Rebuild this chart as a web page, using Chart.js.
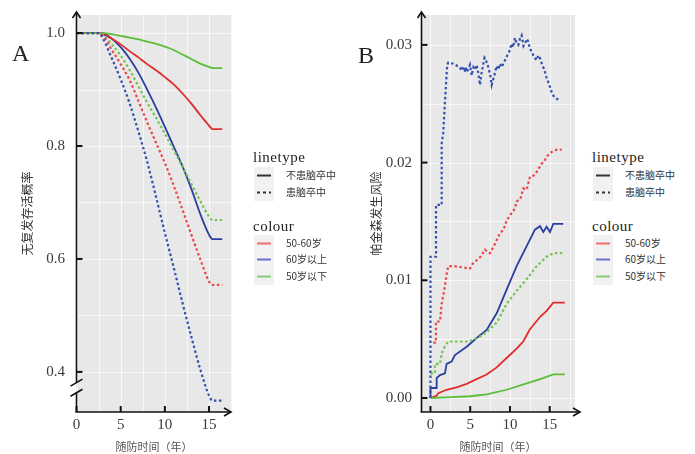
<!DOCTYPE html>
<html>
<head>
<meta charset="utf-8">
<script src="https://cdn.jsdelivr.net/npm/chart.js@4.4.0/dist/chart.umd.min.js"></script>
<style>
  body { margin: 0; background: #fff; width: 695px; height: 454px; position: relative; overflow: hidden; }
  canvas { position: absolute; top: 0; }
  #chartA { left: 0; }
  #chartB { left: 340px; }
  .tag { position: absolute; font-family: "Liberation Serif", serif; font-size: 24px; line-height: 24px; color: #222; }
  .legend { position: absolute; top: 0; width: 100px; height: 300px; }
  .ltitle { position: absolute; left: 0; font-family: "Liberation Serif", serif; font-size: 15px; line-height: 18px; color: #222; letter-spacing: 0.5px; }
  .ltext { position: absolute; left: 33px; font-family: "Noto Sans CJK SC", sans-serif; font-size: 10px; line-height: 14px; color: #333; white-space: nowrap; }
  .lkey { position: absolute; left: 1px; }
</style>
</head>
<body>
<canvas id="chartA" width="245" height="454"></canvas>
<canvas id="chartB" width="250" height="454"></canvas>
<div class="tag" style="left:12px;top:41px">A</div>
<div class="tag" style="left:358px;top:43px">B</div>

<script>
// ---- panel A: 无复发存活概率 ----
const yearsA = [0, 2.5, 3, 4, 5, 6, 7, 8, 9, 10, 11, 12, 13, 14, 15, 15.4, 16.5];
const aRedSolid   = [1, 1, 1, 0.99, 0.98, 0.968, 0.957, 0.945, 0.934, 0.922, 0.909, 0.893, 0.875, 0.855, 0.836, 0.83, 0.83];
const aBlueSolid  = [1, 1, 0.998, 0.99, 0.975, 0.955, 0.93, 0.9, 0.868, 0.834, 0.799, 0.764, 0.724, 0.68, 0.643, 0.635, 0.635];
const aGreenSolid = [1, 1, 1, 0.998, 0.995, 0.992, 0.989, 0.985, 0.981, 0.976, 0.97, 0.962, 0.954, 0.946, 0.94, 0.938, 0.938];
const aRedDash    = [1, 1, 0.995, 0.97, 0.945, 0.917, 0.88, 0.842, 0.806, 0.77, 0.73, 0.687, 0.643, 0.6, 0.56, 0.554, 0.554];
const aBlueDash   = [1, 1, 0.99, 0.955, 0.918, 0.876, 0.826, 0.772, 0.71, 0.646, 0.585, 0.522, 0.462, 0.405, 0.358, 0.349, 0.349];
const aGreenDash  = [1, 1, 0.997, 0.98, 0.96, 0.935, 0.906, 0.877, 0.85, 0.822, 0.793, 0.763, 0.733, 0.703, 0.675, 0.669, 0.669];
const aYTicks = [0.4, 0.6, 0.8, 1.0];

// ---- panel B: 帕金森发生风险 ----
const bBlueDashT = [0, 0, 0.7, 0.7, 1.41, 1.41, 1.6, 1.9, 2.1, 2.24, 2.87, 3.4, 3.7, 3.92, 4.1, 4.3, 4.45, 4.55, 4.75, 4.97, 5.18, 5.4, 5.6, 5.8, 6.02, 6.23, 6.4, 6.65, 6.8, 6.98, 7.28, 7.5, 7.7, 7.9, 8.11, 8.3, 8.53, 8.75, 8.95, 9.3, 9.58, 9.9, 10.21, 10.4, 10.63, 10.8, 11.05, 11.25, 11.47, 11.7, 11.89, 12.1, 12.3, 12.5, 12.73, 13.0, 13.36, 13.55, 13.77, 14.0, 14.19, 14.4, 14.61, 14.9, 15.24, 15.45, 15.66, 16.29];
const bBlueDashV = [0, 0.012, 0.012, 0.0164, 0.0164, 0.0216, 0.0225, 0.026, 0.0283, 0.0285, 0.0284, 0.0282, 0.0281, 0.0278, 0.0282, 0.0277, 0.0281, 0.0277, 0.0279, 0.0283, 0.0274, 0.0281, 0.0279, 0.0283, 0.0276, 0.0266, 0.0275, 0.0284, 0.0289, 0.0287, 0.0281, 0.0275, 0.0266, 0.0271, 0.0276, 0.0282, 0.0279, 0.0284, 0.0281, 0.0286, 0.029, 0.0294, 0.0301, 0.0298, 0.0306, 0.0302, 0.03, 0.0305, 0.0308, 0.0299, 0.0301, 0.0305, 0.0303, 0.0297, 0.0294, 0.029, 0.0287, 0.0291, 0.0289, 0.0284, 0.0281, 0.0277, 0.0272, 0.0267, 0.026, 0.0257, 0.0255, 0.0253];
const bRedDashT = [0.36, 0.69, 0.69, 1.2, 1.41, 1.82, 2.03, 2.24, 3.0, 4.0, 4.97, 5.3, 5.81, 6.3, 6.86, 7.2, 7.48, 8.11, 8.74, 9.2, 9.58, 10.2, 10.63, 10.84, 11.3, 11.68, 12.1, 12.52, 13.0, 13.35, 13.98, 14.3, 14.61, 15.24, 15.87, 16.5];
const bRedDashV = [0.0047, 0.0047, 0.0065, 0.0065, 0.008, 0.0095, 0.0105, 0.0112, 0.0112, 0.0111, 0.011, 0.0114, 0.0117, 0.012, 0.0126, 0.0124, 0.0123, 0.0131, 0.014, 0.0143, 0.0151, 0.0157, 0.0161, 0.0167, 0.0169, 0.0178, 0.0177, 0.0188, 0.0189, 0.0192, 0.0199, 0.0201, 0.0205, 0.0209, 0.0211, 0.0211];
const bGreenDashT = [0, 0.57, 0.57, 1.2, 1.41, 1.82, 2.24, 3.5, 4.55, 5.18, 6.2, 7.07, 8.33, 9.58, 10.84, 12.1, 13.35, 14.61, 15.45, 16.9];
const bGreenDashV = [0.0021, 0.0021, 0.0029, 0.0029, 0.0038, 0.0044, 0.0048, 0.0048, 0.0048, 0.0049, 0.0052, 0.0056, 0.0064, 0.008, 0.0091, 0.0101, 0.0112, 0.012, 0.0123, 0.0123];
const bBlueSolidT = [0, 0, 0.78, 0.78, 1.2, 1.82, 2.03, 2.66, 3.08, 4.55, 5.81, 7.07, 8.33, 9.58, 10.84, 12.1, 13.14, 13.77, 14.19, 14.61, 15.03, 15.45, 16.7];
const bBlueSolidV = [0, 0.00085, 0.00085, 0.0017, 0.00195, 0.0021, 0.0029, 0.0031, 0.00365, 0.00436, 0.0051, 0.00578, 0.0072, 0.0092, 0.0112, 0.0129, 0.0143, 0.0146, 0.0141, 0.01455, 0.0141, 0.0148, 0.0148];
const bRedSolidT = [0, 0.78, 0.98, 2.03, 3.29, 4.55, 5.81, 7.07, 8.33, 9.58, 10.84, 11.67, 12.47, 13.8, 14.61, 15.45, 16.9];
const bRedSolidV = [0, 0.0002, 0.0004, 0.0007, 0.0009, 0.0012, 0.0016, 0.002, 0.0026, 0.0034, 0.0042, 0.0048, 0.0058, 0.0069, 0.0074, 0.0081, 0.0081];
const bGreenSolidT = [0, 2, 4.97, 7.07, 9.58, 12.1, 13.8, 15.45, 16.9];
const bGreenSolidV = [0, 0.00005, 0.00015, 0.0003, 0.0007, 0.00125, 0.0016, 0.002, 0.002];
const bYTicks = [0, 0.01, 0.02, 0.03];

const xTicks = [0, 5, 10, 15];
const xTitle = "随防时间（年）";
const yTitleA = "无复发存活概率";
const yTitleB = "帕金森发生风险";
const lineTypeLabels = ["不患脑卒中", "患脑卒中"];
const colourLabels = ["50-60岁", "60岁以上", "50岁以下"];

const serif = "'Liberation Serif', 'DejaVu Serif', serif";
const cjk = "'Noto Sans CJK SC', sans-serif";
const RED = "#e32b2b", BLUE = "#2a3f9e", GREEN = "#5cbd38";
const RED_D = "#e9474a", BLUE_D = "#3550b0", GREEN_D = "#72c255";
const DOTS = [2.5, 2.5];

function pts(xs, ys) {
  return xs.map((x, i) => ({ x: x, y: ys[i] }));
}

function line(ctx, x1, y1, x2, y2) {
  ctx.beginPath();
  ctx.moveTo(x1, y1);
  ctx.lineTo(x2, y2);
  ctx.stroke();
}

// grey panel, white grid, black axes with arrows, inward ticks, optional axis break
const decor = {
  id: "decor",
  beforeDatasetsDraw(chart, args, o) {
    const { ctx, chartArea: a, scales: { x, y } } = chart;
    ctx.save();
    ctx.fillStyle = "#e8e8e8";
    ctx.fillRect(a.left, a.top, a.right - a.left, a.bottom - a.top);
    ctx.strokeStyle = "rgba(255,255,255,0.7)";
    ctx.lineWidth = 1;
    o.gridX.forEach((v) => {
      const p = Math.round(x.getPixelForValue(v)) + 0.5;
      line(ctx, p, a.top, p, a.bottom);
    });
    o.gridY.forEach((v) => {
      const p = Math.round(y.getPixelForValue(v)) + 0.5;
      line(ctx, a.left, p, a.right, p);
    });
    ctx.restore();
  },
  afterDraw(chart, args, o) {
    const { ctx, chartArea: a, scales: { x, y } } = chart;
    const L = a.left + 0.5, B = a.bottom, top = a.top - 3, R = a.right + o.arrowDx;
    ctx.save();
    ctx.strokeStyle = "#111";
    ctx.lineWidth = 1.6;
    // y axis (with break if wanted)
    if (o.breakAt) {
      const p1 = y.getPixelForValue(o.breakAt[0]);
      const p2 = y.getPixelForValue(o.breakAt[1]);
      line(ctx, L, top, L, p1);
      line(ctx, L, p2, L, B);
      [p1, p2].forEach((p) => line(ctx, L - 6, p + 3.5, L + 6, p - 3.5));
    } else {
      line(ctx, L, top, L, B);
    }
    line(ctx, L - 1, B, R, B);
    // arrow heads
    ctx.beginPath();
    ctx.moveTo(L - 4, top + 6); ctx.lineTo(L, top); ctx.lineTo(L + 4, top + 6);
    ctx.moveTo(R - 7, B - 4); ctx.lineTo(R, B); ctx.lineTo(R - 7, B + 4);
    ctx.stroke();
    // inward ticks
    ctx.lineWidth = 2;
    x.ticks.forEach((t) => {
      const p = x.getPixelForValue(t.value);
      line(ctx, p, B, p, B - 6);
    });
    y.ticks.forEach((t) => {
      const p = y.getPixelForValue(t.value);
      line(ctx, L, p, L + 6, p);
    });
    ctx.restore();
  }
};

function makeChart(id, datasets, opt) {
  return new Chart(document.getElementById(id), {
    type: "line",
    data: { datasets: datasets },
    plugins: [decor],
    options: {
      responsive: false,
      animation: false,
      layout: { padding: { left: 0, top: 15, right: opt.padRight, bottom: 0 } },
      elements: { point: { radius: 0 } },
      plugins: {
        legend: { display: false },
        tooltip: { enabled: false },
        decor: opt.decor
      },
      scales: {
        x: {
          type: "linear",
          min: opt.xMin,
          max: opt.xMax,
          grid: { display: false, drawTicks: false },
          border: { display: false },
          afterBuildTicks: (s) => { s.ticks = xTicks.map((v) => ({ value: v })); },
          afterFit: (s) => { s.height = 42; s.paddingLeft = 0; s.paddingRight = 0; },
          ticks: { font: { family: serif, size: 15 }, color: "#3a3a3a", padding: 4, maxRotation: 0, autoSkip: false },
          title: { display: true, text: xTitle, font: { family: cjk, size: 11 }, color: "#555", padding: { top: 0, bottom: 1 } }
        },
        y: {
          type: "linear",
          min: opt.yMin,
          max: opt.yMax,
          grid: { display: false, drawTicks: false },
          border: { display: false },
          afterBuildTicks: (s) => { s.ticks = opt.yTicks.map((v) => ({ value: v })); },
          afterFit: (s) => { s.width = opt.yWidth; s.paddingTop = 0; s.paddingBottom = 0; },
          ticks: {
            font: { family: serif, size: 15 },
            color: "#3a3a3a",
            padding: opt.yTickPad,
            callback: (v) => v.toFixed(opt.digits)
          },
          title: { display: true, text: opt.yTitle, font: { family: cjk, size: 12 }, color: "#333", padding: { top: opt.yTitlePad, bottom: 0 } }
        }
      }
    }
  });
}

function ds(data, color, dashed, smooth) {
  return {
    data: data,
    borderColor: color,
    borderWidth: dashed ? 2.2 : 1.8,
    borderDash: dashed ? DOTS : [],
    fill: false,
    tension: smooth ? 0.4 : 0,
    cubicInterpolationMode: smooth ? "monotone" : "default"
  };
}

makeChart("chartA", [
  ds(pts(yearsA, aBlueDash), BLUE_D, true, true),
  ds(pts(yearsA, aRedDash), RED_D, true, true),
  ds(pts(yearsA, aGreenDash), GREEN_D, true, true),
  ds(pts(yearsA, aGreenSolid), GREEN, false, true),
  ds(pts(yearsA, aRedSolid), RED, false, true),
  ds(pts(yearsA, aBlueSolid), BLUE, false, true)
], {
  padRight: 13, xMin: -0.06, xMax: 17.6, yMin: 0.329, yMax: 1.032,
  yTicks: aYTicks, digits: 1, yWidth: 76, yTickPad: 11, yTitle: yTitleA, yTitlePad: 20,
  decor: {
    gridX: [0, 2.5, 5, 7.5, 10, 12.5, 15, 17.5],
    gridY: [0.4, 0.5, 0.6, 0.7, 0.8, 0.9, 1.0],
    breakAt: [0.381, 0.363],
    arrowDx: -1
  }
});

makeChart("chartB", [
  ds(pts(bBlueDashT, bBlueDashV), BLUE_D, true, false),
  ds(pts(bRedDashT, bRedDashV), RED_D, true, false),
  ds(pts(bGreenDashT, bGreenDashV), GREEN_D, true, false),
  ds(pts(bGreenSolidT, bGreenSolidV), GREEN, false, false),
  ds(pts(bRedSolidT, bRedSolidV), RED, false, false),
  ds(pts(bBlueSolidT, bBlueSolidV), BLUE, false, false)
], {
  padRight: 15, xMin: -1.19, xMax: 18.18, yMin: -0.00119, yMax: 0.03254,
  yTicks: bYTicks, digits: 2, yWidth: 81, yTickPad: 9, yTitle: yTitleB, yTitlePad: 29,
  decor: {
    gridX: [0, 2.5, 5, 7.5, 10, 12.5, 15, 17.5],
    gridY: [0, 0.005, 0.01, 0.015, 0.02, 0.025, 0.03],
    breakAt: null,
    arrowDx: 5
  }
});

// ---- legends (two blocks each: linetype, colour) ----
const keyColours = ["#f26d6d", "#6b73c9", "#86cc7a"];
const lineTypeRows = [175, 192];
const colourRows = [243, 259, 276];

function keySvg(cy, colour, dash) {
  return '<svg class="lkey" style="top:' + (cy - 8.5) + 'px" width="20" height="17">' +
    '<rect width="20" height="17" fill="#f1f1f1"/>' +
    '<line x1="3" x2="17" y1="8.5" y2="8.5" stroke="' + colour + '" stroke-width="2"' +
    (dash ? ' stroke-dasharray="' + dash + '"' : '') + '/></svg>';
}

function addLegend(left) {
  const box = document.createElement("div");
  box.className = "legend";
  box.style.left = left + "px";
  let html = '<div class="ltitle" style="top:148px">linetype</div>';
  lineTypeLabels.forEach((lab, i) => {
    const cy = lineTypeRows[i];
    html += keySvg(cy, "#333", i === 1 ? "3 3" : null);
    html += '<div class="ltext" style="top:' + (cy - 7) + 'px">' + lab + "</div>";
  });
  html += '<div class="ltitle" style="top:217px">colour</div>';
  colourLabels.forEach((lab, i) => {
    const cy = colourRows[i];
    html += keySvg(cy, keyColours[i], null);
    html += '<div class="ltext" style="top:' + (cy - 7) + 'px">' + lab + "</div>";
  });
  box.innerHTML = html;
  document.body.appendChild(box);
}

addLegend(253);
addLegend(592);
</script>
</body>
</html>
